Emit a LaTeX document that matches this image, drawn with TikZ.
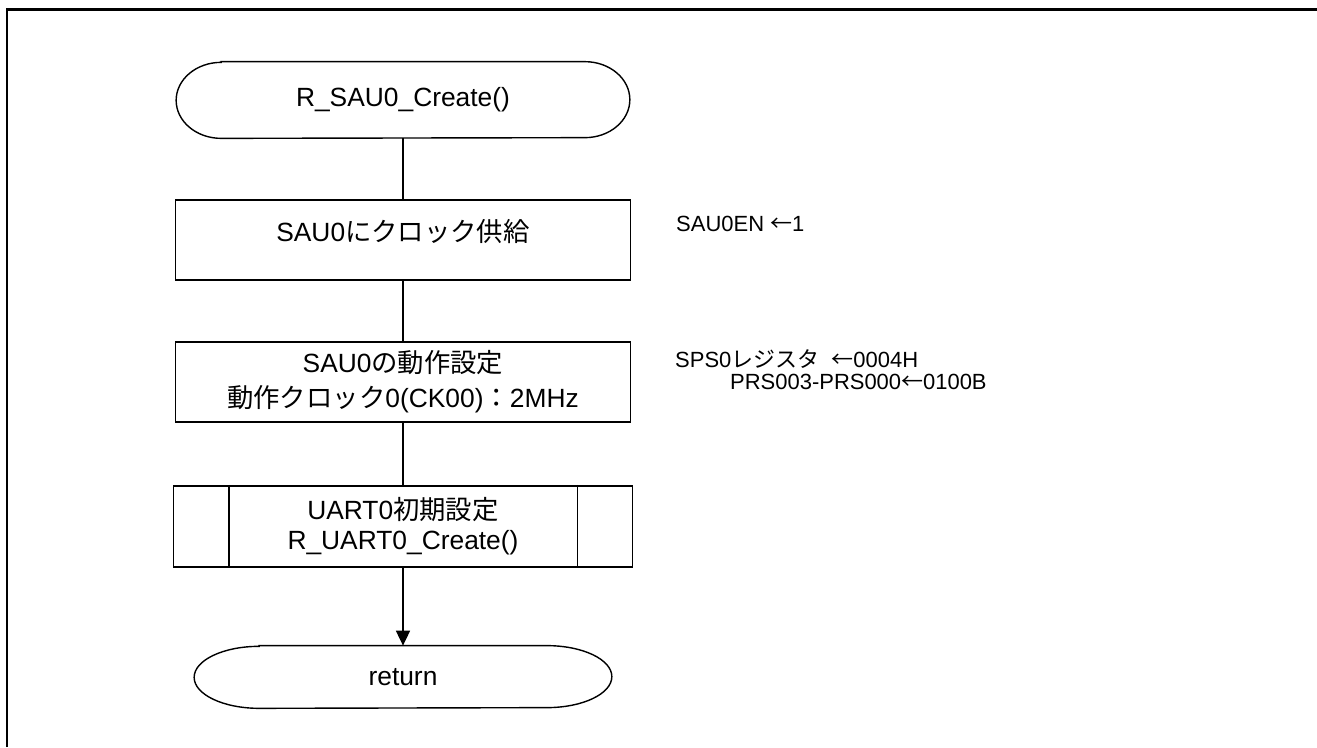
\documentclass[tikz,border=0pt]{standalone}
\usepackage{fontspec}
\setmainfont{Liberation Sans}
\newfontfamily\jp{Noto Sans CJK JP}
\usetikzlibrary{positioning, arrows.meta}

\begin{document}
\begin{tikzpicture}[
    node distance=1.22cm and 0.9cm,
    term/.style={rectangle, minimum width=9.06cm, minimum height=1.52cm, font=\fontsize{15}{18}\selectfont},
    box/.style={rectangle, draw, line width=1pt, minimum width=9.1cm, minimum height=1.6cm, align=center, font=\fontsize{15}{20}\selectfont},
    note/.style={inner sep=0pt, align=left, font=\fontsize{12.5}{12.5}\selectfont},
    line/.style={line width=1pt},
    arrow/.style={-{Triangle[length=3mm, width=2.8mm]}, line width=1pt},
]
\useasboundingbox (0,0) rectangle (26.34,-14.94);
% outer frame
\draw[line width=1.7pt] (0.14,-14.94) -- (0.14,-0.18) -- (26.34,-0.18);

\node[term] (start) at (8.06,-2.0) {R\_SAU0\_Create()};
\node[box, below=1.22cm of start, text depth=0.4cm] (clock) {SAU0{\jp にクロック供給}};
\node[box, below=1.2cm of clock] (setup) {SAU0{\jp の動作設定}\\{\jp 動作クロック}0(CK00){\jp ：}2MHz};
\node[box, below=1.24cm of setup, minimum width=9.18cm, minimum height=1.62cm, font=\fontsize{15}{17}\selectfont] (uart) {UART0{\jp 初期設定}\\R\_UART0\_Create()};
\node[term, below=1.56cm of uart, minimum width=8.34cm, minimum height=1.24cm] (ret) {return};

\node[note, right=0.89cm of clock, yshift=0.32cm] (clocknote) {SAU0EN {\jp ←}1};
\node[note, right=0.87cm of setup, yshift=0.24cm] (setupnote) {SPS0{\jp レジスタ}\ \ {\jp ←}0004H\\\hspace*{1.1cm}PRS003-PRS000{\jp ←}0100B};

% terminals
\draw[line width=0.8pt] ([xshift=0.9cm]start.north west) -- ([xshift=-0.9cm]start.north east)
    arc[start angle=90, end angle=-90, x radius=0.9cm, y radius=0.76cm]
    -- ([xshift=0.9cm]start.south west)
    arc[start angle=270, end angle=90, x radius=0.9cm, y radius=0.76cm] -- cycle;
\draw[line width=0.8pt] ([xshift=1.3cm]ret.north west) -- ([xshift=-1.3cm]ret.north east)
    arc[start angle=90, end angle=-90, x radius=1.3cm, y radius=0.62cm]
    -- ([xshift=1.3cm]ret.south west)
    arc[start angle=270, end angle=90, x radius=1.3cm, y radius=0.62cm] -- cycle;
% predefined process sides
\draw[line] ([xshift=1.12cm]uart.north west) -- ([xshift=1.12cm]uart.south west);
\draw[line] ([xshift=-1.12cm]uart.north east) -- ([xshift=-1.12cm]uart.south east);

\draw[line] (start) -- (clock);
\draw[line] (clock) -- (setup);
\draw[line] (setup) -- (uart);
\draw[arrow] (uart) -- (ret);

\end{tikzpicture}
\end{document}
